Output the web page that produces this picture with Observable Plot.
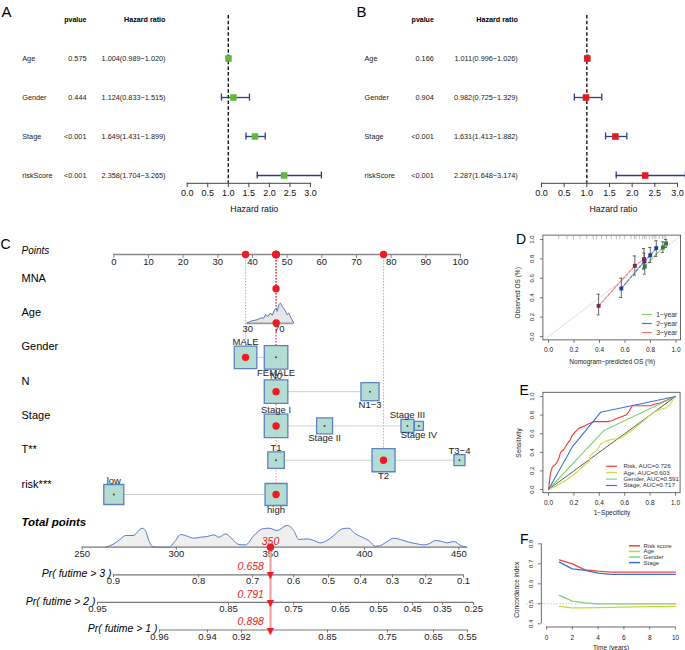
<!DOCTYPE html>
<html>
<head>
<meta charset="utf-8">
<script src="https://cdn.jsdelivr.net/npm/d3@7"></script>
<script src="https://cdn.jsdelivr.net/npm/@observablehq/plot@0.6"></script>
<style>
html,body{margin:0;padding:0;background:#fff;}
#fig{position:relative;width:685px;height:650px;overflow:hidden;background:#fff;}
</style>
</head>
<body>
<div id="fig"></div>
<script>
// ================= DATA =================
// Panel A / B : Cox regression forest plots
const forestVars = ["Age", "Gender", "Stage", "riskScore"];
const uniPvalue = ["0.575", "0.444", "<0.001", "<0.001"];
const uniHR = [1.004, 1.124, 1.649, 2.358];
const uniLower = [0.989, 0.833, 1.431, 1.704];
const uniUpper = [1.020, 1.515, 1.899, 3.265];
const multiPvalue = ["0.166", "0.904", "<0.001", "<0.001"];
const multiHR = [1.011, 0.982, 1.631, 2.287];
const multiLower = [0.996, 0.725, 1.413, 1.648];
const multiUpper = [1.026, 1.329, 1.882, 3.174];
const hrTicks = [0, 0.5, 1, 1.5, 2, 2.5, 3];

// Panel C : nomogram
const nomoRowNames = ["Points", "MNA", "Age", "Gender", "N", "Stage", "T**", "risk***"];
const pointsTicks = [0, 10, 20, 30, 40, 50, 60, 70, 80, 90, 100];
const mnaPoints = 46.8;
const ageTicks = [30, 70];
const ageTickPoints = [38.65, 47.7];
const ageSelected = 66.2;
const ageGrid = [29.2, 35.6, 42, 46.2, 50.4, 52.5, 56, 58.9, 61, 64.4, 66.2, 67.5, 69.5, 71.7, 73.8, 77.1, 80.2, 82.2, 85.3, 88.6];
const ageDensity = [0, 2.3, 3.3, 5, 5, 8.3, 6.7, 10, 7.7, 13.3, 15, 11.7, 18.3, 20, 16.7, 13.3, 8.3, 10, 5, 0];
const genderLevels = ["MALE", "FEMALE"], genderPoints = [38.0, 46.8], genderCount = [247, 270];
const nLevels = ["N0", "N1\u22123"], nPoints = [46.8, 73.9], nCount = [270, 159];
const stageLevels = ["Stage I", "Stage II", "Stage III", "Stage IV"], stagePoints = [46.8, 60.8, 84.7, 88.0], stageCount = [270, 124, 82, 40];
const tLevels = ["T1", "T2", "T3\u22124"], tPoints = [46.8, 77.8, 99.7], tCount = [132, 258, 59];
const riskLevels = ["low", "high"], riskPoints = [0, 46.8], riskCount = [195, 235];
const selectedLevels = ["MALE", "N0", "Stage I", "T2", "high"];
const totalTicks = [250, 300, 350, 400, 450];
const totalGrid = [262.4, 266.8, 270.4, 273, 277.4, 279.2, 281.9, 283.6, 285.4, 287.2, 289, 296, 299.6, 302.2, 305.8, 309.3, 312.8, 316.4, 319.9, 322.6, 326.1, 329.6, 333.2, 336.7, 341.2, 345.6, 349.1, 353.5, 358.8, 362.4, 365, 369.5, 373, 376.5, 380, 383.6, 388, 391.5, 395.1, 398.7, 402.2, 405.7, 408.4, 412, 415.5, 419, 423.5, 427.9, 431.4, 434.1, 437.7, 441.2, 443.8, 447.4, 451, 454.4];
const totalDensity = [0, 3.3, 8.3, 11.7, 11.7, 15, 19, 16.7, 6.7, 1, 0, 0, 6.7, 12.7, 11, 9, 10, 10.7, 12.3, 10, 13.3, 8.3, 2.7, 2.3, 11.7, 18.3, 19, 16.7, 21.7, 16.7, 7.7, 8.3, 6.7, 4.3, 6.7, 11.7, 18.3, 19, 13.3, 10, 6.7, 1, 1.7, 5.7, 9, 7.7, 5, 3.3, 2.3, 3.3, 6.7, 5.7, 4.3, 5.7, 1.7, 0];
const selectedTotal = 350;
const survTitles = ["Pr( futime > 3 )", "Pr( futime > 2 )", "Pr( futime > 1 )"];
const survProb = [0.658, 0.791, 0.898];
const pr3Labels = ["0.9", "0.8", "0.7", "0.6", "0.5", "0.4", "0.3", "0.2", "0.1"];
const pr3Total = [266.6, 311.8, 340.5, 362.3, 380.8, 397.8, 414.8, 432.4, 452.5];
const pr2Labels = ["0.95", "0.85", "0.75", "0.65", "0.55", "0.45", "0.35", "0.25"];
const pr2Total = [258.1, 327.7, 362.3, 387.2, 407.4, 425.5, 441.4, 457.9];
const pr1Labels = ["0.96", "0.94", "0.92", "0.85", "0.75", "0.65", "0.55"];
const pr1Total = [291.1, 316.5, 334.6, 380.3, 412.1, 436.6, 454.6];

// Panel D : calibration
const calNames = ["1\u2212year", "2\u2212year", "3\u2212year"];
const calPred1 = [0.755, 0.897, 0.922], calObs1 = [0.722, 0.918, 0.959], calLo1 = [0.643, 0.866, 0.918], calHi1 = [0.810, 0.976, 1.000];
const calPred2 = [0.571, 0.752, 0.798, 0.845], calObs2 = [0.495, 0.775, 0.838, 0.911], calLo2 = [0.402, 0.700, 0.763, 0.825], calHi2 = [0.600, 0.860, 0.918, 0.986];
const calPred3 = [0.393, 0.677, 0.749], calObs3 = [0.316, 0.729, 0.797], calLo3 = [0.223, 0.632, 0.694], calHi3 = [0.436, 0.830, 0.907];
const calRug = [0.08, 0.145, 0.196, 0.248, 0.30, 0.351, 0.377, 0.416, 0.455, 0.493, 0.532, 0.558, 0.597, 0.648, 0.674, 0.687, 0.713, 0.739, 0.752, 0.765, 0.791, 0.817, 0.829, 0.842, 0.868, 0.894, 0.907, 0.92];
const unitTicks = [0, 0.2, 0.4, 0.6, 0.8, 1];

// Panel E : ROC
const rocNames = ["Risk", "Age", "Gender", "Stage"];
const rocAUC = [0.726, 0.603, 0.591, 0.717];
const riskFPR = [0, 0.005, 0.01, 0.02, 0.03, 0.055, 0.07, 0.08, 0.095, 0.12, 0.147, 0.17, 0.186, 0.21, 0.24, 0.28, 0.32, 0.36, 0.40, 0.46, 0.50, 0.53, 0.57, 0.61, 0.63, 0.66, 0.70, 0.80, 0.84, 0.88, 0.93, 0.97, 1];
const riskTPR = [0, 0.05, 0.125, 0.2, 0.24, 0.27, 0.3, 0.33, 0.4, 0.43, 0.49, 0.53, 0.58, 0.62, 0.66, 0.68, 0.71, 0.73, 0.73, 0.73, 0.74, 0.76, 0.78, 0.8, 0.83, 0.9, 0.9, 0.9, 0.92, 0.93, 0.96, 0.985, 1];
const ageFPR = [0, 0.05, 0.1, 0.15, 0.2, 0.25, 0.3, 0.32, 0.33, 0.36, 0.38, 0.41, 0.45, 0.5, 0.55, 0.58, 0.62, 0.68, 0.74, 0.8, 0.84, 0.88, 0.93, 0.96, 0.98, 1];
const ageTPR = [0, 0.03, 0.07, 0.11, 0.16, 0.22, 0.28, 0.30, 0.37, 0.40, 0.42, 0.49, 0.52, 0.54, 0.545, 0.56, 0.60, 0.66, 0.73, 0.80, 0.84, 0.86, 0.88, 0.92, 0.97, 1];
const genderFPR = [0, 0.436, 1], genderTPR = [0, 0.634, 1];
const stageFPR = [0, 0.186, 0.41, 1], stageTPR = [0, 0.455, 0.83, 1];

// Panel F : C-index over time
const cYears = [1, 2, 3, 4, 5, 6, 7, 8, 9, 10];
const cRisk = [0.720, 0.700, 0.670, 0.663, 0.658, 0.658, 0.658, 0.658, 0.658, 0.658];
const cAge = [0.487, 0.480, 0.480, 0.481, 0.482, 0.483, 0.485, 0.486, 0.486, 0.487];
const cGender = [0.542, 0.513, 0.505, 0.500, 0.500, 0.500, 0.500, 0.500, 0.500, 0.500];
const cStage = [0.708, 0.675, 0.667, 0.653, 0.647, 0.647, 0.647, 0.647, 0.647, 0.647];
const cNames = ["Risk score", "Age", "Gender", "Stage"];
const yearTicks = [0, 2, 4, 6, 8, 10];
const cTicks = [0.4, 0.5, 0.6, 0.7, 0.8];

// ================= DRAWING =================
const FONT = '"Liberation Sans", Arial, Helvetica, sans-serif';
const RED = "#ec1c24";
const fig = document.getElementById("fig");
const f3 = d3.format(".3f"), f1 = d3.format(".1f");
function place(svg, left, top) {
  svg.style.position = "absolute";
  svg.style.left = left + "px";
  svg.style.top = top + "px";
  svg.style.background = "transparent";
  svg.style.overflow = "visible";
  svg.style.maxWidth = "none";
  svg.style.fontFamily = FONT;
  fig.appendChild(svg);
}

// ---- forest plot ----
function forest(o) {
  const rows = forestVars.map((v, i) => ({v, hr: o.hr[i], lo: o.lo[i], hi: o.hi[i], p: o.p[i], i: i + 1,
    txt: `${f3(o.hr[i])}(${f3(o.lo[i])}\u2212${f3(o.hi[i])})`}));
  const axisY = rows.length + 0.2;
  const navy = "#283f8a";
  const fs = 7.3;
  return Plot.plot({
    width: o.width, height: 215, margin: 0,
    x: {domain: [0, 3], range: o.xRange, axis: null},
    y: {domain: [0, rows.length], range: [19, 175], axis: null},
    style: {fontFamily: FONT},
    marks: [
      Plot.text([o.letter], {frameAnchor: "top-left", dx: o.letterDx, dy: 6, textAnchor: "start", fontSize: 15, text: d => d}),
      Plot.text(["pvalue"], {frameAnchor: "left", y: () => 0, dx: o.pX, textAnchor: "end", fontWeight: "bold", fontSize: 7, text: d => d}),
      Plot.text(["Hazard ratio"], {frameAnchor: "left", y: () => 0, dx: o.hrX, textAnchor: "end", fontWeight: "bold", fontSize: 7.2, text: d => d}),
      Plot.text(rows, {frameAnchor: "left", y: "i", dx: o.nameX, textAnchor: "start", fontSize: fs, fill: "#222", text: "v"}),
      Plot.text(rows, {frameAnchor: "left", y: "i", dx: o.pX, textAnchor: "end", fontSize: fs, fill: "#222", text: "p"}),
      Plot.text(rows, {frameAnchor: "left", y: "i", dx: o.hrX, textAnchor: "end", fontSize: fs, fill: "#222", text: "txt"}),
      Plot.ruleX([1], {y1: () => -0.1, y2: () => axisY, stroke: "#111", strokeWidth: 1.4, strokeDasharray: "3.5,2.2"}),
      Plot.ruleY(rows, {y: "i", x1: "lo", x2: "hi", stroke: navy, strokeWidth: 1.3}),
      Plot.ruleX(rows, {x: "lo", y1: d => d.i - 0.09, y2: d => d.i + 0.09, stroke: navy, strokeWidth: 1.3}),
      Plot.ruleX(rows, {x: "hi", y1: d => d.i - 0.09, y2: d => d.i + 0.09, stroke: navy, strokeWidth: 1.3}),
      Plot.dot(rows, {x: "hr", y: "i", symbol: "square", r: 3.7, fill: o.color}),
      Plot.ruleY([axisY], {x1: () => 0, x2: () => 3, stroke: "#444", strokeWidth: 1}),
      Plot.ruleX(hrTicks, {x: d => d, y1: () => axisY, y2: () => axisY + 0.11, stroke: "#444", strokeWidth: 1}),
      Plot.text(hrTicks, {x: d => d, y: () => axisY, dy: 9.7, fontSize: 9, fill: "#111", text: d => f1(d)}),
      Plot.text(["Hazard ratio"], {x: () => d3.max(o.hi) / 2, y: () => axisY, dy: 26.3, fontSize: 8.8, fill: "#111", text: d => d})
    ]
  });
}
place(forest({letter: "A", letterDx: 1, hr: uniHR, lo: uniLower, hi: uniUpper, p: uniPvalue, color: "#62b83c",
  width: 340, xRange: [186.7, 310], nameX: 21.7, pX: 86, hrX: 165}), 0, 0);
place(forest({letter: "B", letterDx: 16, hr: multiHR, lo: multiLower, hi: multiUpper, p: multiPvalue, color: "#e41a1c",
  width: 345, xRange: [201, 337], nameX: 24, pX: 93.3, hrX: 177.3}), 340, 0);

// ---- nomogram (upper part) ----
{
  const rowPx = 34.29;
  const nMax = 270, rMax = 13.3;
  const rS = d3.scaleSqrt().domain([0, nMax]).range([0, rMax]);
  const agePts = d3.scaleLinear().domain(ageTicks).range(ageTickPoints);
  const catVars = [
    {row: 3, levels: genderLevels, pts: genderPoints, n: genderCount},
    {row: 4, levels: nLevels, pts: nPoints, n: nCount},
    {row: 5, levels: stageLevels, pts: stagePoints, n: stageCount},
    {row: 6, levels: tLevels, pts: tPoints, n: tCount},
    {row: 7, levels: riskLevels, pts: riskPoints, n: riskCount}
  ];
  const cats = catVars.flatMap(v => v.levels.map((l, j) => ({label: l, row: v.row, pts: v.pts[j], n: v.n[j], j, sel: selectedLevels.includes(l)})));
  const half = d => Math.sqrt(Math.PI) * rS(d.n) / 2;
  const labelY = d => d.row + (d.j % 2 === 0 ? -1 : 1) * (half(d) + 4) / rowPx;
  const sel = [{row: 1, pts: mnaPoints}, {row: 2, pts: agePts(ageSelected)}, ...cats.filter(d => d.sel)];
  const spans = catVars.map(v => ({row: v.row, x1: d3.min(v.pts), x2: d3.max(v.pts)}));
  const ageData = ageGrid.map((a, i) => ({p: agePts(a), dens: ageDensity[i]}));
  const blue = "#4a6fc6";
  place(Plot.plot({
    width: 480, height: 300, margin: 0,
    x: {domain: [0, 100], range: [113.3, 460], axis: null},
    y: {domain: [0, 7], range: [39, 279], axis: null},
    r: {type: "sqrt", domain: [0, nMax], range: [0, rMax]},
    style: {fontFamily: FONT},
    marks: [
      Plot.text(["C"], {frameAnchor: "top-left", dx: 0, dy: 24, textAnchor: "start", fontSize: 14, text: d => d}),
      Plot.text(["Points"], {frameAnchor: "left", y: () => 0, dx: 21, dy: -4, textAnchor: "start", fontStyle: "italic", fontSize: 10, text: d => d}),
      Plot.text(nomoRowNames.slice(1), {frameAnchor: "left", y: (d, i) => i + 1, dx: 21, dy: -10.5, textAnchor: "start", fontSize: 11, text: d => d}),
      // points axis
      Plot.ruleY([0], {x1: () => 0, x2: () => 100, stroke: "#888", strokeWidth: 1.3}),
      Plot.ruleX(pointsTicks, {x: d => d, y1: () => 0, y2: () => 4 / rowPx, stroke: "#888"}),
      Plot.text(pointsTicks, {x: d => d, y: () => 0, dy: 7, fontSize: 9.5, fill: "#222", text: d => String(d)}),
      // red dotted guides
      Plot.ruleX(sel, {x: "pts", y1: () => 0, y2: "row", stroke: "#e53030", strokeOpacity: 0.55, strokeWidth: 0.9, strokeDasharray: "1.5,1.5"}),
      // connecting spans
      Plot.ruleY(spans, {y: "row", x1: "x1", x2: "x2", stroke: "#cfcfcf", strokeWidth: 1}),
      // age density
      Plot.ruleY([2], {x1: () => agePts(ageGrid[0]), x2: () => agePts(ageGrid[ageGrid.length - 1]), stroke: "#9a9a9a", strokeWidth: 2.4}),
      Plot.area(ageData, {x1: "p", y1: () => 2, y2: d => 2 - d.dens / rowPx, fill: "#e6e6e6"}),
      Plot.line(ageData, {x: "p", y: d => 2 - d.dens / rowPx, stroke: blue, strokeWidth: 0.9}),
      Plot.text(ageTicks, {x: d => agePts(d), y: () => 2, dy: 6, fontSize: 9.5, fill: "#222", text: d => String(d)}),
      // boxes
      Plot.dot(cats, {x: "pts", y: "row", r: "n", symbol: "square", fill: "#b3dcd3", stroke: "#5d81c3", strokeWidth: 1.3}),
      Plot.dot(cats.filter(d => !d.sel), {x: "pts", y: "row", r: 1, fill: "#444"}),
      Plot.dot(sel, {x: "pts", y: "row", r: 3.7, fill: RED}),
      Plot.dot(sel, {x: "pts", y: () => 0, r: 3.7, fill: RED}),
      Plot.text(cats, {x: "pts", y: labelY, fontSize: 9.5, fill: "#222", text: "label"})
    ]
  }), 0, 215);
}

// ---- nomogram (lower part: total points & survival probabilities) ----
{
  const rowPx = 27.6;
  const dens = totalGrid.map((t, i) => ({t, h: totalDensity[i]}));
  const prRows = [
    {title: survTitles[0], labels: pr3Labels, at: pr3Total, prob: survProb[0]},
    {title: survTitles[1], labels: pr2Labels, at: pr2Total, prob: survProb[1]},
    {title: survTitles[2], labels: pr1Labels, at: pr1Total, prob: survProb[2]}
  ].map((r, i) => ({...r, row: i + 1}));
  const prTicks = prRows.flatMap(r => r.labels.map((lab, j) => ({row: r.row, lab, t: r.at[j]})));
  const ink = "#777";
  place(Plot.plot({
    width: 480, height: 145, margin: 0,
    x: {domain: [250, 450], range: [81.7, 458.3], axis: null},
    y: {domain: [0, 3], range: [41.7, 124.5], axis: null},
    style: {fontFamily: FONT},
    marks: [
      Plot.text(["Total points"], {frameAnchor: "top-left", dx: 21, dy: 12, textAnchor: "start", fontWeight: "bold", fontStyle: "italic", fontSize: 11.5, text: d => d}),
      Plot.area(dens, {x1: "t", y1: () => 0, y2: d => -d.h / rowPx, fill: "#efefef", curve: "monotone-x"}),
      Plot.line(dens, {x: "t", y: d => -d.h / rowPx, stroke: "#4a6fc6", strokeWidth: 0.9, curve: "monotone-x"}),
      Plot.ruleY([0], {x1: () => totalTicks[0], x2: () => d3.max(totalGrid), stroke: ink, strokeWidth: 1.2}),
      Plot.ruleX(totalTicks, {x: d => d, y1: () => 0, y2: () => 3 / rowPx, stroke: ink}),
      Plot.text(totalTicks, {x: d => d, y: () => 0, dy: 6.5, fontSize: 9.5, fill: "#222", text: d => String(d)}),
      Plot.ruleY(prRows, {y: "row", x1: d => d.at[0], x2: d => d.at[d.at.length - 1], stroke: ink, strokeWidth: 1.2}),
      Plot.ruleX(prTicks, {x: "t", y1: "row", y2: d => d.row + 3 / rowPx, stroke: ink}),
      Plot.text(prTicks, {x: "t", y: "row", dy: 6.5, fontSize: 9.5, fill: "#222", text: "lab"}),
      Plot.text(prRows, {x: d => d.at[0], y: "row", dx: -2, dy: -1, textAnchor: "end", fontStyle: "italic", fontSize: 10.5, text: "title"}),
      Plot.ruleX([selectedTotal], {x: d => d, y1: () => 0, y2: () => 3, stroke: "#f4a3a3", strokeWidth: 2.2}),
      Plot.dot([selectedTotal], {x: d => d, y: () => 0, r: 3.7, fill: RED}),
      Plot.text([selectedTotal], {x: d => d, y: () => 0, dy: -6, fill: RED, fontStyle: "italic", fontSize: 10.5, text: d => String(d)}),
      Plot.text(prRows, {x: () => selectedTotal, y: "row", dx: -6.6, dy: -8, textAnchor: "end", fill: RED, fontStyle: "italic", fontSize: 10.5, text: d => f3(d.prob)}),
      Plot.text(prRows, {x: () => selectedTotal, y: "row", dy: 0.5, fill: RED, fontSize: 9.5, fontFamily: "DejaVu Sans", text: () => "\u25BC"})
    ]
  }), 0, 505);
}

// ---- helper for base-R-like axes ----
function rAxes(o) {
  const xpx = (o.xRange[1] - o.xRange[0]) / (o.xDomain[1] - o.xDomain[0]);
  const ypx = (o.yRange[0] - o.yRange[1]) / (o.yDomain[1] - o.yDomain[0]);
  const xs = (o.xDomain[1] - o.xDomain[0]) * 0.04, ys = (o.yDomain[1] - o.yDomain[0]) * 0.04;
  const xu = [o.xDomain[0] - xs, o.xDomain[1] + xs], yu = [o.yDomain[0] - ys, o.yDomain[1] + ys];
  const ink = "#444";
  const m = [];
  if (o.box) {
    m.push(Plot.rect([0], {x1: () => xu[0], x2: () => xu[1], y1: () => yu[0], y2: () => yu[1], fill: "none", stroke: ink, strokeWidth: 0.8}));
  } else {
    m.push(Plot.ruleY([yu[0]], {y: d => d, x1: () => o.xTicks[0], x2: () => o.xTicks[o.xTicks.length - 1], stroke: ink, strokeWidth: 0.8}));
    m.push(Plot.ruleX([xu[0]], {x: d => d, y1: () => o.yTicks[0], y2: () => o.yTicks[o.yTicks.length - 1], stroke: ink, strokeWidth: 0.8}));
  }
  m.push(Plot.ruleX(o.xTicks, {x: d => d, y1: () => yu[0], y2: () => yu[0] - 3 / ypx, stroke: ink, strokeWidth: 0.7}));
  m.push(Plot.text(o.xTicks, {x: d => d, y: () => yu[0], dy: o.xLabDy, text: o.xFmt, fontSize: 6.5, fill: "#222"}));
  m.push(Plot.ruleY(o.yTicks, {y: d => d, x1: () => xu[0], x2: () => xu[0] - 3 / xpx, stroke: ink, strokeWidth: 0.7}));
  m.push(Plot.text(o.yTicks, {y: d => d, x: () => xu[0], dx: o.yLabDx, rotate: -90, text: o.yFmt, fontSize: 6, fill: "#222"}));
  m.push(Plot.text([o.xTitle], {x: () => o.xTitleAt, y: () => yu[0], dy: o.xTitleDy, fontSize: 6.5, fill: "#222", text: d => d}));
  m.push(Plot.text([o.yTitle], {x: () => xu[0], y: () => o.yTitleAt, dx: o.yTitleDx, rotate: -90, fontSize: 6.5, fill: "#222", text: d => d}));
  m.push(Plot.text([o.letter], {frameAnchor: "top-left", dx: o.letterAt[0], dy: o.letterAt[1], fontSize: 14, text: d => d}));
  return m;
}

// ---- Panel D ----
{
  const xDomain = [0, 1], yDomain = [0, 1], xRange = [68, 195.5], yRange = [121, 24];
  const lineCol = ["#8fd05c", "#4f73c4", "#f27474"];
  const markCol = ["#2f7a45", "#1f3f9a", "#7d2657"];
  const series = [[calPred1, calObs1, calLo1, calHi1], [calPred2, calObs2, calLo2, calHi2], [calPred3, calObs3, calLo3, calHi3]];
  const pts = series.flatMap((s, k) => s[0].map((x, i) => ({k, x, y: s[1][i], lo: s[2][i], hi: s[3][i]})));
  const leg = calNames.map((n, k) => ({n, k}));
  const cw = 0.012;
  place(Plot.plot({
    width: 205, height: 160, margin: 0,
    x: {domain: xDomain, range: xRange, axis: null},
    y: {domain: yDomain, range: yRange, axis: null},
    style: {fontFamily: FONT},
    marks: [
      Plot.line([[-0.04, -0.04], [1.04, 1.04]], {stroke: "#d8d8d8", strokeWidth: 0.8}),
      Plot.ruleX(calRug, {x: d => d, y1: () => 0.998, y2: () => 1.035, stroke: "#999", strokeWidth: 0.6}),
      ...series.map((s, k) => Plot.line(s[0].map((x, i) => [x, s[1][i]]), {stroke: lineCol[k], strokeWidth: 1.1, strokeDasharray: "3,1.5"})),
      Plot.ruleX(pts, {x: "x", y1: "lo", y2: "hi", stroke: "#555", strokeWidth: 0.9}),
      Plot.ruleY(pts, {y: "lo", x1: d => d.x - cw, x2: d => d.x + cw, stroke: "#555", strokeWidth: 0.9}),
      Plot.ruleY(pts, {y: "hi", x1: d => d.x - cw, x2: d => d.x + cw, stroke: "#555", strokeWidth: 0.9}),
      Plot.dot(pts, {x: "x", y: "y", symbol: "square", r: 2.2, fill: d => markCol[d.k]}),
      ...rAxes({xDomain, yDomain, xRange, yRange, box: true, xTicks: unitTicks, yTicks: unitTicks, xFmt: d => f1(d), yFmt: d => f1(d),
        xLabDy: 10, yLabDx: -11, xTitle: "Nomogram\u2212predicted OS (%)", xTitleAt: 0.5, xTitleDy: 22,
        yTitle: "Observed OS (%)", yTitleAt: 0.45, yTitleDx: -25, letter: "D", letterAt: [35.5, 18.5]}),
      Plot.ruleY(leg, {y: d => 0.227 - d.k * 0.093, x1: () => 0.736, x2: () => 0.814, stroke: d => lineCol[d.k], strokeWidth: 1.2}),
      Plot.text(leg, {y: d => 0.227 - d.k * 0.093, x: () => 0.845, textAnchor: "start", fontSize: 6.8, fill: "#333", text: "n"})
    ]
  }), 480, 215);
}

// ---- Panel E ----
{
  const xDomain = [0, 1], yDomain = [0, 1], xRange = [68, 195], yRange = [114, 21];
  const cols = ["#f0393c", "#c9dc3c", "#7fd07f", "#3f74d0"];
  const curves = [[riskFPR, riskTPR], [ageFPR, ageTPR], [genderFPR, genderTPR], [stageFPR, stageTPR]];
  const leg = rocNames.map((n, k) => ({n, k, auc: rocAUC[k]}));
  place(Plot.plot({
    width: 205, height: 145, margin: 0,
    x: {domain: xDomain, range: xRange, axis: null},
    y: {domain: yDomain, range: yRange, axis: null},
    style: {fontFamily: FONT},
    marks: [
      Plot.line([[0, 0], [1, 1]], {stroke: "#333", strokeWidth: 0.8}),
      ...curves.map((c, k) => Plot.line(c[0].map((x, i) => [x, c[1][i]]), {stroke: cols[k], strokeWidth: 1.1})),
      ...rAxes({xDomain, yDomain, xRange, yRange, box: true, xTicks: unitTicks, yTicks: unitTicks, xFmt: d => f1(d), yFmt: d => f1(d),
        xLabDy: 9.5, yLabDx: -11, xTitle: "1\u2212Specificity", xTitleAt: 0.5, xTitleDy: 19.5,
        yTitle: "Sensitivity", yTitleAt: 0.5, yTitleDx: -25, letter: "E", letterAt: [39, 10]}),
      Plot.ruleY(leg, {y: d => 0.25 - d.k * 0.069, x1: () => 0.457, x2: () => 0.543, stroke: d => cols[d.k], strokeWidth: 1.2}),
      Plot.text(leg, {y: d => 0.25 - d.k * 0.069, x: () => 0.59, textAnchor: "start", fontSize: 6.2, fill: "#333", text: d => `${d.n}, AUC=${f3(d.auc)}`})
    ]
  }), 480, 375);
}

// ---- Panel F ----
{
  const xDomain = [0, 10], yDomain = [0.4, 0.8], xRange = [66, 195], yRange = [103.3, 23.3];
  const cols = ["#ee4444", "#c8d832", "#7fd07f", "#3d6fd0"];
  const series = [cRisk, cAge, cGender, cStage];
  const leg = cNames.map((n, k) => ({n, k}));
  place(Plot.plot({
    width: 205, height: 130, margin: 0,
    x: {domain: xDomain, range: xRange, axis: null},
    y: {domain: yDomain, range: yRange, axis: null},
    style: {fontFamily: FONT},
    marks: [
      Plot.ruleY([0.5], {y: d => d, x1: () => -1.5, x2: () => 10.4, stroke: "#aaa", strokeWidth: 0.9, strokeDasharray: "1,2"}),
      ...series.map((s, k) => Plot.line(cYears.map((t, i) => [t, s[i]]), {stroke: cols[k], strokeWidth: 1.3})),
      ...rAxes({xDomain, yDomain, xRange, yRange, box: false, xTicks: yearTicks, yTicks: cTicks, xFmt: d => String(d), yFmt: d => f1(d),
        xLabDy: 10.5, yLabDx: -10, xTitle: "Time (years)", xTitleAt: 5, xTitleDy: 20.5,
        yTitle: "Concordance index", yTitleAt: 0.57, yTitleDx: -24, letter: "F", letterAt: [39.5, 14]}),
      Plot.ruleY(leg, {y: d => 0.79 - d.k * 0.028, x1: () => 6.43, x2: () => 7.29, stroke: d => cols[d.k], strokeWidth: 1.5}),
      Plot.text(leg, {y: d => 0.79 - d.k * 0.028, x: () => 7.52, textAnchor: "start", fontSize: 6, fill: "#333", text: "n"})
    ]
  }), 480, 520);
}
</script>
</body>
</html>
